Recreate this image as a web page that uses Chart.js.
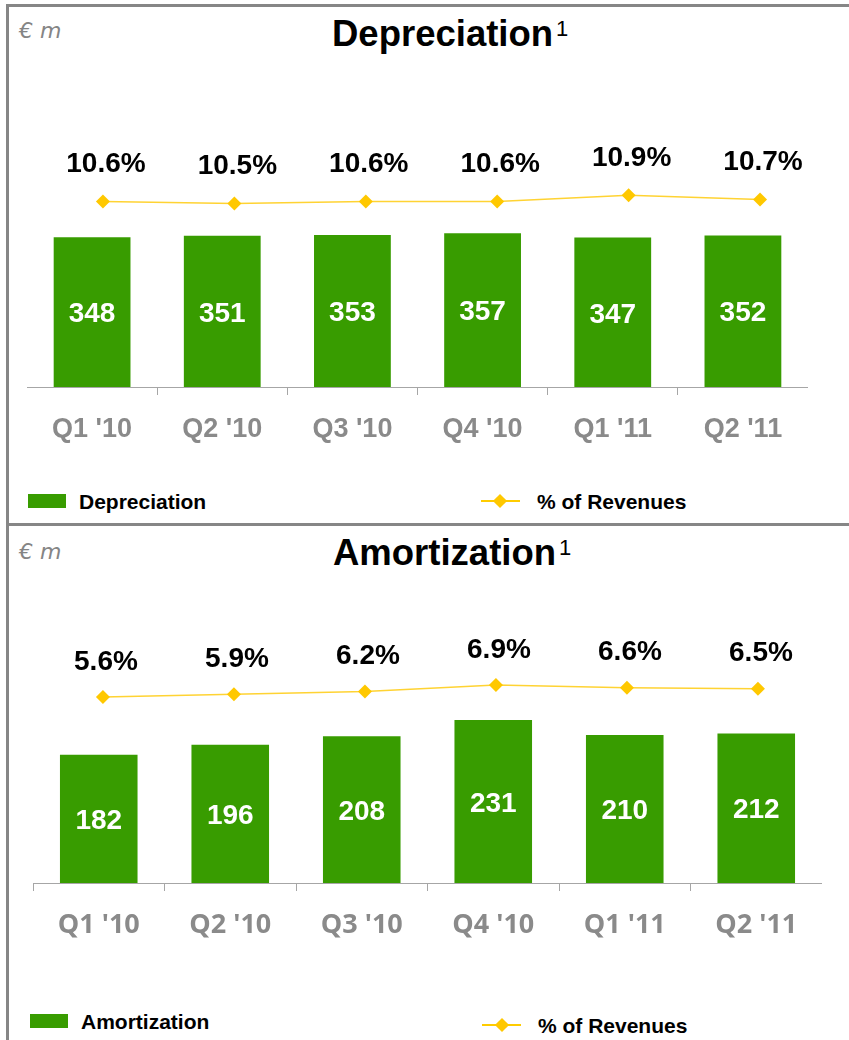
<!DOCTYPE html>
<html>
<head>
<meta charset="utf-8">
<script src="https://cdn.jsdelivr.net/npm/chart.js@4.4.1/dist/chart.umd.min.js"></script>
<style>
  body { margin: 0; background: #fff; font-family: "Liberation Sans", Arial, sans-serif; }
  #page { position: relative; width: 849px; height: 1040px; overflow: hidden; background: #fff; }
  .rule { position: absolute; background: #868686; }
  .unit { position: absolute; font-family: "DejaVu Sans", sans-serif; font-size: 22px; line-height: 22px; font-style: italic; color: #858585; }
  .title { position: absolute; font-size: 36.5px; line-height: 36.5px; font-weight: bold; color: #000; white-space: nowrap; }
  .title sup { font-size: 22px; font-weight: normal; vertical-align: baseline; position: relative; top: -10px; margin-left: 3px; }
  .leg { position: absolute; font-size: 21px; line-height: 21px; font-weight: bold; color: #000; white-space: nowrap; }
  .sw { position: absolute; background: #389c00; }
  .lline { position: absolute; height: 2px; background: #ffcc00; }
  .dia { position: absolute; width: 10px; height: 10px; background: #ffc800; transform: rotate(45deg); }
  canvas { position: absolute; }
</style>
</head>
<body>
<div id="page">
  <div class="rule" style="left:6px;top:4px;width:3px;height:1036px"></div>
  <div class="rule" style="left:6px;top:4px;width:843px;height:3px"></div>
  <div class="rule" style="left:6px;top:523px;width:843px;height:3px"></div>

  <div class="unit" style="left:19px;top:20px">€ m</div>
  <div class="title" style="left:332px;top:16px">Depreciation<sup>1</sup></div>
  <div class="sw" style="left:28px;top:494px;width:38px;height:14px"></div>
  <div class="leg" style="left:79px;top:491px">Depreciation</div>
  <div class="lline" style="left:481px;top:500px;width:39px"></div>
  <div class="dia" style="left:495px;top:496px"></div>
  <div class="leg" style="left:537px;top:491px">% of Revenues</div>

  <div class="unit" style="left:19px;top:541px">€ m</div>
  <div class="title" style="left:333px;top:535px">Amortization<sup>1</sup></div>
  <div class="sw" style="left:30px;top:1014px;width:38px;height:14px"></div>
  <div class="leg" style="left:81px;top:1011px">Amortization</div>
  <div class="lline" style="left:482px;top:1024px;width:39px"></div>
  <div class="dia" style="left:497px;top:1020px"></div>
  <div class="leg" style="left:538px;top:1015px">% of Revenues</div>

  <canvas id="depChart" style="left:27px;top:120px" width="781" height="337"></canvas>
  <canvas id="amoChart" style="left:33px;top:620px" width="789" height="333"></canvas>
</div>

<script>
const quarters = ["Q1 '10", "Q2 '10", "Q3 '10", "Q4 '10", "Q1 '11", "Q2 '11"];
const depreciation = [348, 351, 353, 357, 347, 352];
const depreciationPct = [10.6, 10.5, 10.6, 10.6, 10.9, 10.7];
const amortization = [182, 196, 208, 231, 210, 212];
const amortizationPct = [5.6, 5.9, 6.2, 6.9, 6.6, 6.5];

const GREEN = '#389c00';
const GOLD = '#ffc800';

// writes the values into the bars and above the line points
const valueLabels = {
    id: 'valueLabels',
    afterDatasetsDraw(chart, args, opts) {
        const ctx = chart.ctx;
        ctx.save();
        ctx.textAlign = 'center';
        ctx.textBaseline = 'middle';
        ctx.font = 'bold 28px "Liberation Sans", Arial, sans-serif';
        chart.data.datasets.forEach((ds, i) => {
            const meta = chart.getDatasetMeta(i);
            meta.data.forEach((el, j) => {
                if (ds.type === 'bar') {
                    ctx.fillStyle = '#fff';
                    ctx.fillText(String(ds.data[j]), el.x, (el.y + el.base) / 2 + 2.5);
                } else {
                    ctx.fillStyle = '#000';
                    ctx.fillText(ds.data[j].y.toFixed(1) + '%', el.x + 3, el.y - opts.lift);
                }
            });
        });
        ctx.restore();
    }
};

// the % line sits on its own, slightly wider, x range in the original slide
function makeChart(id, bars, pct, name, yMax, pMin, pMax, lMin, lMax, tickFont, lift) {
    const el = document.getElementById(id);
    if (!el) return;

    new Chart(el.getContext('2d'), {
        type: 'bar',
        data: {
            labels: quarters,
            datasets: [{
                type: 'line',
                label: '% of Revenues',
                data: pct.map((v, i) => ({ x: i, y: v })),
                xAxisID: 'xl',
                yAxisID: 'p',
                borderColor: '#ffd333',
                borderWidth: 1.5,
                pointStyle: 'rectRot',
                pointRadius: 7,
                pointBackgroundColor: GOLD,
                pointBorderColor: GOLD,
                pointBorderWidth: 0,
                tension: 0,
                clip: false
            }, {
                type: 'bar',
                label: name,
                data: bars,
                xAxisID: 'x',
                yAxisID: 'y',
                backgroundColor: GREEN,
                grouped: false,
                barPercentage: 0.59,
                categoryPercentage: 1
            }]
        },
        options: {
            responsive: false,
            animation: false,
            layout: { padding: 0, autoPadding: false },
            plugins: {
                legend: { display: false },
                tooltip: { enabled: false },
                valueLabels: { lift: lift }
            },
            scales: {
                x: {
                    type: 'category',
                    offset: true,
                    grid: { offset: true, drawOnChartArea: false, drawTicks: true, tickLength: 8, color: '#a6a6a6' },
                    border: { display: true, color: '#a6a6a6', width: 1 },
                    ticks: { color: '#8a8a8a', font: tickFont, padding: 18 },
                    afterFit: (scale) => { scale.height = 70; }
                },
                xl: { type: 'linear', axis: 'x', display: false, offset: false, min: lMin, max: lMax },
                y: { display: false, min: 0, max: yMax },
                p: { type: 'linear', axis: 'y', display: false, min: pMin, max: pMax }
            }
        },
        plugins: [valueLabels]
    });
}

makeChart('depChart', depreciation, depreciationPct, 'Depreciation', 620, 1.64, 14.54, -0.578, 5.365,
    { family: '"Liberation Sans", Arial, sans-serif', size: 27, weight: 'bold' }, 37);
makeChart('amoChart', amortization, amortizationPct, 'Amortization', 373, -14.55, 13.94, -0.534, 5.489,
    { family: '"Open Sans", sans-serif', size: 27, weight: 'bold' }, 35);
</script>
</body>
</html>
